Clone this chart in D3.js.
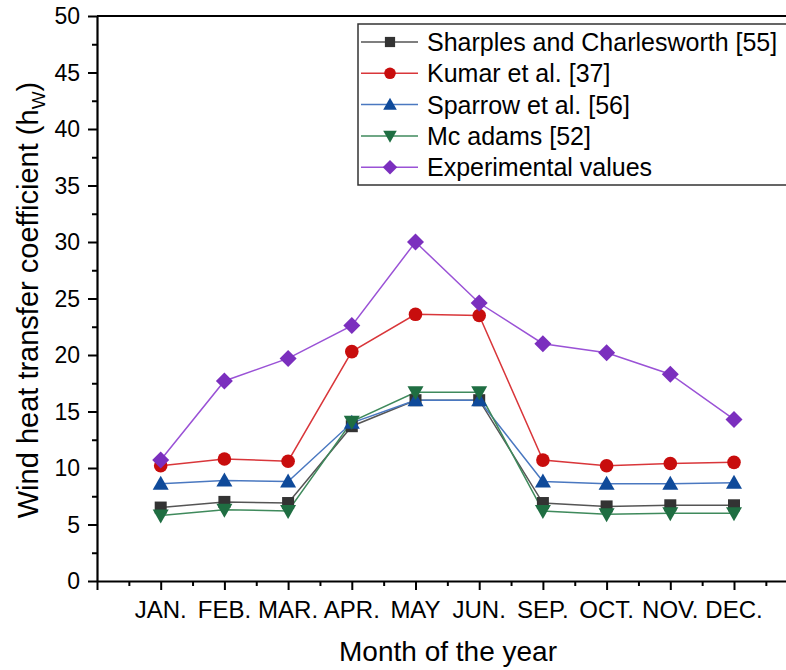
<!DOCTYPE html>
<html><head><meta charset="utf-8">
<script src="https://cdn.jsdelivr.net/npm/d3@7"></script>
<style>body{margin:0;background:#fff;} svg{display:block;font-family:"Liberation Sans",Arial,sans-serif;}</style>
</head><body>
<svg id="c" width="786" height="670"></svg>
<script>
const months = ["JAN.","FEB.","MAR.","APR.","MAY","JUN.","SEP.","OCT.","NOV.","DEC."];
const sharples = [6.5, 7.0, 6.9, 13.7, 16.0, 16.0, 6.9, 6.6, 6.7, 6.7];
const kumar    = [10.2, 10.8, 10.6, 20.3, 23.6, 23.5, 10.7, 10.2, 10.4, 10.5];
const sparrow  = [8.6, 8.9, 8.8, 14.0, 16.0, 16.0, 8.8, 8.6, 8.6, 8.7];
const mcadams  = [5.8, 6.3, 6.2, 14.1, 16.7, 16.7, 6.2, 5.9, 6.0, 6.0];
const experimental = [10.7, 17.7, 19.7, 22.6, 30.0, 24.6, 21.0, 20.2, 18.3, 14.3];
const seriesNames = ["Sharples and Charlesworth [55]","Kumar et al. [37]","Sparrow et al. [56]","Mc adams [52]","Experimental values"];
const yTicks = [0,5,10,15,20,25,30,35,40,45,50];

const series = [
  {name: seriesNames[0], values: sharples, line:"#555555", fill:"#333333", shape:"square"},
  {name: seriesNames[1], values: kumar, line:"#d9363a", fill:"#c80d0d", shape:"circle"},
  {name: seriesNames[2], values: sparrow, line:"#4a78c0", fill:"#0f4a9a", shape:"tri"},
  {name: seriesNames[3], values: mcadams, line:"#3f8a5c", fill:"#1f6e42", shape:"dtri"},
  {name: seriesNames[4], values: experimental, line:"#9a52d6", fill:"#7b2fbe", shape:"diamond"}
];

const svg = d3.select("#c");
const x = d3.scaleLinear().domain([0, 11]).range([97, 797.7]);
const y = d3.scaleLinear().domain([0, 50]).range([581, 16]);

// axes
const gx = svg.append("g").attr("transform", `translate(0,${y(0)})`);
gx.call(d3.axisBottom(x).tickValues(d3.range(0, 11.01, 0.5)).tickSize(0).tickFormat(""));
gx.select(".domain").attr("stroke","#000").attr("stroke-width",2.2);
gx.selectAll(".tick line").remove();
gx.selectAll(".tick").append("line").attr("y1",0)
  .attr("y2", d => Number.isInteger(d) ? 9 : 5).attr("stroke","#000").attr("stroke-width",2);
gx.selectAll(".tick text").remove();
svg.append("g").selectAll("text").data(months).join("text")
  .attr("x",(d,i)=>x(i+1)).attr("y",618).attr("text-anchor","middle")
  .attr("font-size",24).attr("fill","#000").text(d=>d);

const gy = svg.append("g").attr("transform", `translate(${x(0)},0)`);
gy.call(d3.axisLeft(y).tickValues(d3.range(0, 50.01, 2.5)).tickSize(0).tickFormat(""));
gy.select(".domain").attr("stroke","#000").attr("stroke-width",2.2);
gy.selectAll(".tick line").remove();
gy.selectAll(".tick").append("line").attr("x1",0)
  .attr("x2", d => yTicks.includes(d) ? -9 : -5).attr("stroke","#000").attr("stroke-width",2);
svg.append("g").selectAll("text").data(yTicks).join("text")
  .attr("x",80).attr("y",d=>y(d)).attr("dy","0.36em").attr("text-anchor","end")
  .attr("font-size",23).attr("fill","#000").text(d=>d);

// top border
svg.append("line").attr("x1",x(0)).attr("x2",786).attr("y1",y(50)).attr("y2",y(50))
  .attr("stroke","#000").attr("stroke-width",2.2);

// titles
svg.append("text").attr("x",448).attr("y",661).attr("text-anchor","middle")
  .attr("font-size",28).attr("fill","#000").text("Month of the year");
const yt = svg.append("text").attr("transform","translate(38,300) rotate(-90)")
  .attr("text-anchor","middle").attr("font-size",29).attr("fill","#000");
yt.append("tspan").text("Wind heat transfer coefficient (h");
yt.append("tspan").attr("font-size",19).attr("dy",7).text("W");
yt.append("tspan").attr("dy",-7).text(")");

function drawMarker(g, shape, cx, cy, fill, s) {
  s = s || 1;
  if (shape === "square") g.append("rect").attr("x",cx-6*s).attr("y",cy-6*s).attr("width",12*s).attr("height",12*s).attr("fill",fill);
  else if (shape === "circle") g.append("circle").attr("cx",cx).attr("cy",cy).attr("r",6.8*s).attr("fill",fill);
  else if (shape === "tri") g.append("path").attr("d",`M${cx},${cy-8*s}L${cx+8*s},${cy+6*s}L${cx-8*s},${cy+6*s}Z`).attr("fill",fill);
  else if (shape === "dtri") g.append("path").attr("d",`M${cx},${cy+8*s}L${cx+8*s},${cy-6*s}L${cx-8*s},${cy-6*s}Z`).attr("fill",fill);
  else if (shape === "diamond") g.append("path").attr("d",`M${cx},${cy-8.5*s}L${cx+8.5*s},${cy}L${cx},${cy+8.5*s}L${cx-8.5*s},${cy}Z`).attr("fill",fill);
}

const line = d3.line().x((d,i)=>x(i+1)).y(d=>y(d));
series.forEach(s => {
  svg.append("path").datum(s.values).attr("d", line).attr("fill","none")
    .attr("stroke", s.line).attr("stroke-width",1.5);
});
series.forEach(s => {
  const g = svg.append("g");
  s.values.forEach((v,i) => drawMarker(g, s.shape, x(i+1), y(v), s.fill));
});

// legend
const lg = svg.append("g");
lg.append("rect").attr("x",358).attr("y",24).attr("width",440).attr("height",161)
  .attr("fill","#fff").attr("stroke","#333").attr("stroke-width",1.5);
series.forEach((s,i) => {
  const ly = 42 + i*31.3;
  lg.append("line").attr("x1",361).attr("x2",418).attr("y1",ly).attr("y2",ly).attr("stroke",s.line).attr("stroke-width",1.5);
  drawMarker(lg, s.shape, 390, ly, s.fill, 0.85);
  lg.append("text").attr("x",427).attr("y",ly).attr("dy","0.36em").attr("font-size",25).attr("fill","#000").text(s.name);
});
</script>
</body></html>
